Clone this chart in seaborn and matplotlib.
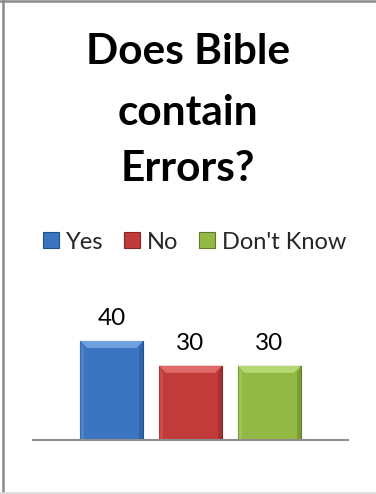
import matplotlib
matplotlib.use("Agg")
import matplotlib.pyplot as plt
from matplotlib.patches import Patch, Polygon
import seaborn as sns
import pandas as pd

# Survey answers
categories = ["Yes", "No", "Don't Know"]
values = [40, 30, 30]
title_lines = ["Does Bible", "contain", "Errors?"]

face_colors = ["#3B74C0", "#C13B3B", "#93B944"]
edge_colors = ["#24508A", "#842626", "#5E7C2A"]
light_colors = ["#6FA0DF", "#E06A6A", "#B6D873"]

sns.set_theme(style="white")
plt.rcParams["font.family"] = ["Lato", "DejaVu Sans"]

W, H = 376, 494
fig = plt.figure(figsize=(W / 100, H / 100), dpi=100)

# Axes placed so the baseline sits near the bottom of the frame
ax_left, ax_right = 33, 348
ax_bottom = 440
ymax = 50
px_per_unit = 2.475
ax_top = ax_bottom - ymax * px_per_unit
ax = fig.add_axes([ax_left / W, 1 - ax_bottom / H,
                   (ax_right - ax_left) / W, (ax_bottom - ax_top) / H])

df = pd.DataFrame({"answer": categories, "pct": values})
sns.barplot(data=df, x="answer", y="pct", hue="answer", order=categories,
            hue_order=categories, palette=face_colors, width=0.8,
            legend=False, ax=ax, saturation=1)

ax.set_xlim(-1, 3)
ax.set_ylim(0, ymax)
ax.set_xlabel("")
ax.set_ylabel("")
ax.set_xticks([])
ax.set_yticks([])
for side in ["left", "right", "top"]:
    ax.spines[side].set_visible(False)
ax.spines["bottom"].set_color("#8C8C8C")
ax.spines["bottom"].set_linewidth(1.5)
ax.spines["bottom"].set_zorder(5)

# Bevel effect on each bar
bev_x = 7 / ((ax_right - ax_left) / 4)
bev_y = 7 / px_per_unit
for patch, fc, ec, lc, v in zip(ax.patches, face_colors, edge_colors,
                                light_colors, values):
    x0 = patch.get_x()
    w = patch.get_width()
    x1 = x0 + w
    y1 = patch.get_height()
    patch.set_edgecolor(ec)
    patch.set_linewidth(0.8)
    # light top bevel
    ax.add_patch(Polygon([(x0, y1), (x1, y1), (x1 - bev_x, y1 - bev_y),
                          (x0 + bev_x, y1 - bev_y)], closed=True,
                         facecolor=lc, edgecolor="none", zorder=3))
    # darker right side
    ax.add_patch(Polygon([(x1, y1), (x1, 0), (x1 - bev_x * 0.6, 0),
                          (x1 - bev_x * 0.6, y1 - bev_y)], closed=True,
                         facecolor=ec, alpha=0.45, edgecolor="none", zorder=3))
    # slightly lighter left side
    ax.add_patch(Polygon([(x0, y1), (x0, 0), (x0 + bev_x * 0.6, 0),
                          (x0 + bev_x * 0.6, y1 - bev_y)], closed=True,
                         facecolor=lc, alpha=0.35, edgecolor="none", zorder=3))
    ax.annotate(f"{v}", xy=(x0 + w / 2, y1), xytext=(0, 11.5),
                textcoords="offset points", ha="center", va="baseline",
                fontsize=17.5, color="#000000")

# Title, one line at a time
for line, base in zip(title_lines, [64, 125, 181]):
    fig.text(0.5, 1 - base / H, line, ha="center", va="baseline",
             fontsize=30.5, fontweight="bold", color="#000000")

# Legend
handles = [Patch(facecolor=fc, edgecolor=ec, linewidth=0.8)
           for fc, ec in zip(face_colors, edge_colors)]
fig.legend(handles, categories, loc="center", bbox_to_anchor=(0.518, 1 - 242 / H),
           ncol=3, frameon=False, fontsize=17, handlelength=0.65,
           handleheight=0.65, handletextpad=0.3, columnspacing=0.9,
           borderpad=0, borderaxespad=0)

# Outer frame
fig.add_artist(plt.Line2D([2.5 / W, 2.5 / W], [0, 1], color="#8C8C8C", lw=1.8,
                          transform=fig.transFigure))
fig.add_artist(plt.Line2D([0, 1], [1 - 1 / H, 1 - 1 / H], color="#8C8C8C", lw=1.8,
                          transform=fig.transFigure))
fig.add_artist(plt.Line2D([0, 1], [1.5 / H, 1.5 / H], color="#DADADA", lw=1.2,
                          transform=fig.transFigure))

fig.savefig("out.png", dpi=100)
